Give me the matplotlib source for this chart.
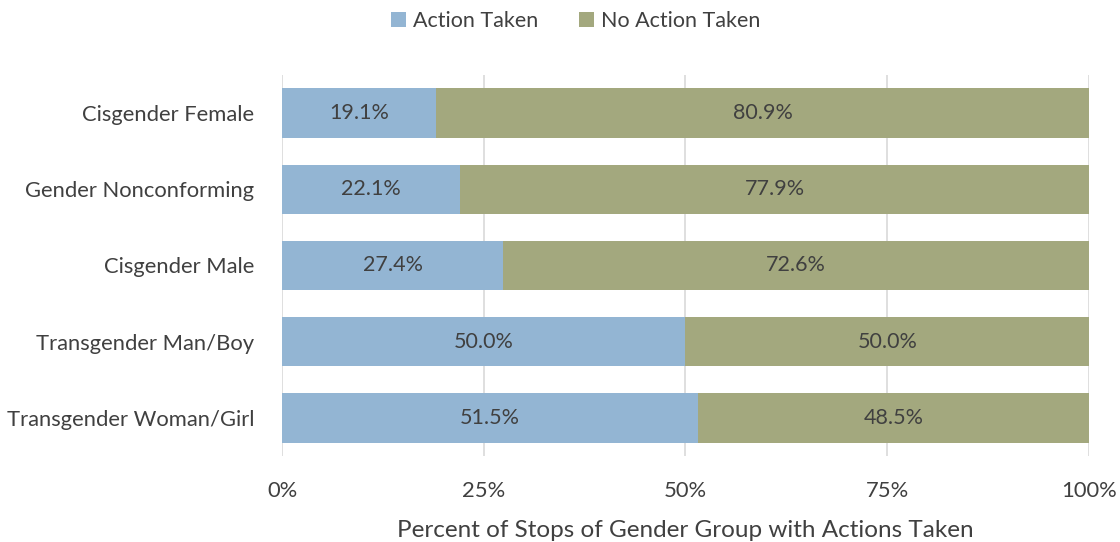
import matplotlib.pyplot as plt
import numpy as np

plt.rcParams['font.family'] = ['Lato', 'DejaVu Sans']

# Data
groups = ['Cisgender Female', 'Gender Nonconforming', 'Cisgender Male',
          'Transgender Man/Boy', 'Transgender Woman/Girl']
action = [19.1, 22.1, 27.4, 50.0, 51.5]
no_action = [80.9, 77.9, 72.6, 50.0, 48.5]
xticks = [0, 25, 50, 75, 100]
xtick_labels = ['0%', '25%', '50%', '75%', '100%']

blue = '#93b5d3'
green = '#a3a87e'
text_c = '#404040'

fig = plt.figure(figsize=(11.2, 5.42), dpi=100)
ax = fig.add_axes([0.2518, 0.1587, 0.7205, 0.7029])

y = np.arange(len(groups))
b1 = ax.barh(y, action, height=0.65, color=blue, label='Action Taken', zorder=2)
b2 = ax.barh(y, no_action, left=action, height=0.65, color=green,
             label='No Action Taken', zorder=2)

for i in range(len(groups)):
    ax.text(action[i] / 2, y[i], f'{action[i]:.1f}%', ha='center', va='center',
            fontsize=15.5, color=text_c, zorder=3)
    ax.text(action[i] + no_action[i] / 2, y[i], f'{no_action[i]:.1f}%',
            ha='center', va='center', fontsize=15.5, color=text_c, zorder=3)

ax.set_xlim(0, 100)
ax.set_ylim(len(groups) - 0.5, -0.5)
ax.set_yticks(y)
ax.set_yticklabels(groups, fontsize=15.8, color=text_c)
ax.set_xticks(xticks)
ax.set_xticklabels(xtick_labels, fontsize=15.8, color=text_c)
ax.tick_params(axis='y', length=0, pad=20)
ax.tick_params(axis='x', length=0, pad=18)
ax.xaxis.grid(True, color='#d9d9d9', linewidth=1.2, zorder=0)
for s in ax.spines.values():
    s.set_visible(False)

ax.set_xlabel('Percent of Stops of Gender Group with Actions Taken',
              fontsize=17.5, color=text_c, labelpad=14)

fig.legend(handles=[b1, b2], loc='center', bbox_to_anchor=(0.514, 0.962), ncol=2,
           frameon=False, fontsize=15.5, handlelength=0.7, handleheight=0.7,
           handletextpad=0.3, columnspacing=1.9, labelcolor=text_c)

fig.savefig('out.png', dpi=100)
